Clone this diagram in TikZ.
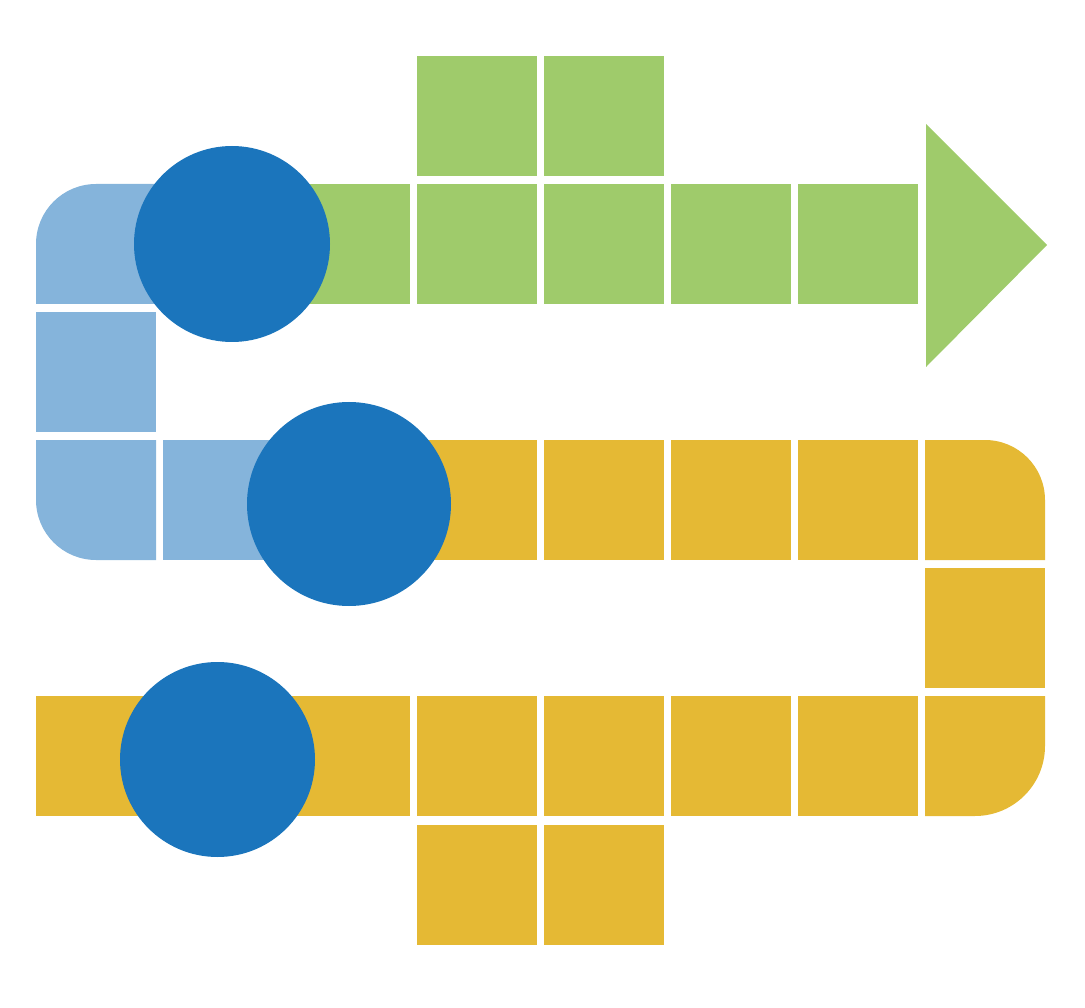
\documentclass[tikz,border=0pt]{standalone}
\definecolor{tgreen}{HTML}{9FCB6B}
\definecolor{tlblue}{HTML}{85B4DB}
\definecolor{tdblue}{HTML}{1B75BC}
\definecolor{tyellow}{HTML}{E5B934}
\tikzset{
  gsq/.style={fill=tgreen},
  bsq/.style={fill=tlblue},
  ysq/.style={fill=tyellow},
  token/.style={fill=tdblue}
}
\begin{document}
\begin{tikzpicture}[x=1pt,y=-1pt]
\useasboundingbox (0,0) rectangle (1085,1008);
% green path
\fill[gsq] (417,56) rectangle (537,176);
\fill[gsq] (544,56) rectangle (664,176);
\foreach \x in {290,417,544,671,798}{\fill[gsq] (\x,184) rectangle ++(120,120);}
\fill[gsq] (926,124) -- (1047,245) -- (926,367) -- cycle;
% blue path
\fill[bsq] (283,304) -- (36,304) -- (36,244) arc[start angle=180,end angle=90,radius=60pt] -- (283,184) -- cycle;
\fill[bsq] (36,312) rectangle (156,432);
\fill[bsq] (156,440) -- (156,560) -- (96,560) arc[start angle=-90,end angle=-180,radius=60pt] -- (36,440) -- cycle;
\fill[bsq] (163,440) rectangle (283,560);
% yellow path
\foreach \x in {417,544,671,798}{\fill[ysq] (\x,440) rectangle ++(120,120);}
\fill[ysq] (925,560) -- (925,440) -- (985,440) arc[start angle=90,end angle=0,radius=60pt] -- (1045,560) -- cycle;
\fill[ysq] (925,568) rectangle (1045,688);
\fill[ysq] (36,696) rectangle (410,816);
\foreach \x in {417,544,671,798}{\fill[ysq] (\x,696) rectangle ++(120,120);}
\fill[ysq] (925,816) -- (925,696) -- (1045,696) -- (1045,746) arc[start angle=0,end angle=-90,radius=70pt] -- cycle;
\fill[ysq] (417,825) rectangle (537,945);
\fill[ysq] (544,825) rectangle (664,945);
% tokens
\fill[token] (232,244) circle[radius=98];
\fill[token] (349,504) circle[radius=102];
\fill[token] (217.5,759.5) circle[radius=97.5];
\end{tikzpicture}
\end{document}
